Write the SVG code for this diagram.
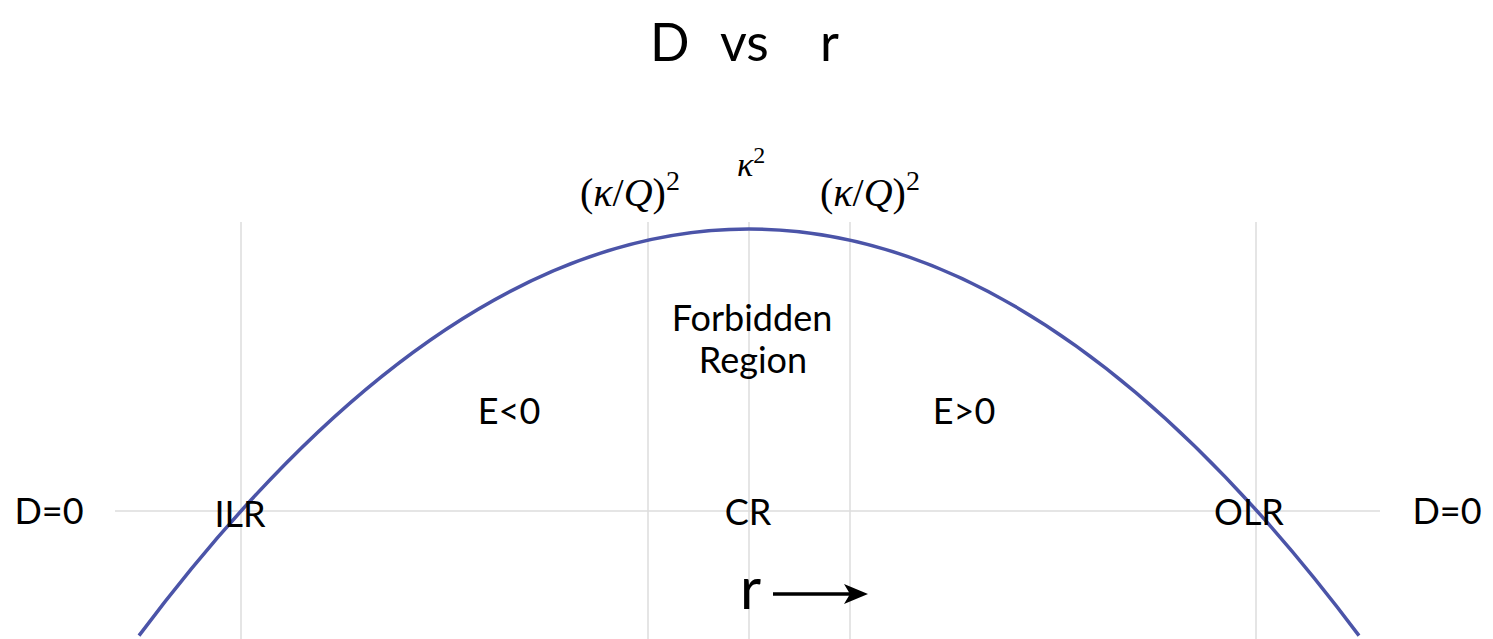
<svg xmlns="http://www.w3.org/2000/svg" width="1493" height="639" viewBox="0 0 1493 639">
<style>
.grid{stroke:#dcdcdc;stroke-width:1.5;fill:none}
.lbl{font-family:Lato,"Open Sans","Liberation Sans",sans-serif;font-size:36px;fill:#000}
.math{font-family:"Liberation Serif","DejaVu Serif",serif;font-style:italic;font-size:40px;fill:#000}
.up{font-style:normal}
</style>
<defs>
<marker id="ah" viewBox="0 0 24 20" refX="16" refY="10" markerWidth="24" markerHeight="20" markerUnits="userSpaceOnUse" orient="auto">
<path d="M0,0 L24,10 L0,20 L6,10 Z" fill="#000"/>
</marker>
</defs>
<rect width="1493" height="639" fill="#fff"/>
<g id="grid">
<line class="grid" x1="115" y1="511" x2="1380" y2="511"/>
<line class="grid" x1="241" y1="222" x2="241" y2="639"/>
<line class="grid" x1="648" y1="222" x2="648" y2="639"/>
<line class="grid" x1="749" y1="222" x2="749" y2="639"/>
<line class="grid" x1="850" y1="222" x2="850" y2="639"/>
<line class="grid" x1="1256" y1="222" x2="1256" y2="639"/>
</g>
<g id="connectors">
<path id="curve" d="M139,635.6 Q749,-177.6 1359,635.6" fill="none" stroke="#4b54a8" stroke-width="3.5"/>
<line id="r-arrow" x1="773" y1="594" x2="860" y2="594" stroke="#000" stroke-width="3.5" marker-end="url(#ah)"/>
</g>
<g id="title"><text class="lbl" y="61" style="font-size:52px"><tspan x="650">D</tspan><tspan x="720">vs</tspan><tspan x="820">r</tspan></text></g>
<g id="kq-left"><text class="math" x="580" y="206"><tspan class="up">(</tspan>κ<tspan class="up">/</tspan>Q<tspan class="up">)</tspan><tspan class="up" font-size="28" dy="-16">2</tspan></text></g>
<g id="kappa2"><text class="math" x="737" y="176" style="font-size:34px">κ<tspan class="up" font-size="24" dy="-13">2</tspan></text></g>
<g id="kq-right"><text class="math" x="820" y="206"><tspan class="up">(</tspan>κ<tspan class="up">/</tspan>Q<tspan class="up">)</tspan><tspan class="up" font-size="28" dy="-16">2</tspan></text></g>
<g id="forbidden"><text class="lbl" x="752" y="331" text-anchor="middle">Forbidden</text><text class="lbl" x="753" y="373" text-anchor="middle">Region</text></g>
<g id="e-neg"><text class="lbl" x="509" y="424" text-anchor="middle">E&lt;0</text></g>
<g id="e-pos"><text class="lbl" x="964" y="424" text-anchor="middle">E&gt;0</text></g>
<g id="d0-left"><text class="lbl" x="49" y="524" text-anchor="middle">D=0</text></g>
<g id="d0-right"><text class="lbl" x="1447" y="524" text-anchor="middle">D=0</text></g>
<g id="ilr"><text class="lbl" x="240" y="527" text-anchor="middle">ILR</text></g>
<g id="cr"><text class="lbl" x="748" y="525" text-anchor="middle">CR</text></g>
<g id="olr"><text class="lbl" x="1249" y="525" text-anchor="middle">OLR</text></g>
<g id="r-label"><text class="lbl" x="740" y="609" style="font-size:58px">r</text></g>
</svg>
